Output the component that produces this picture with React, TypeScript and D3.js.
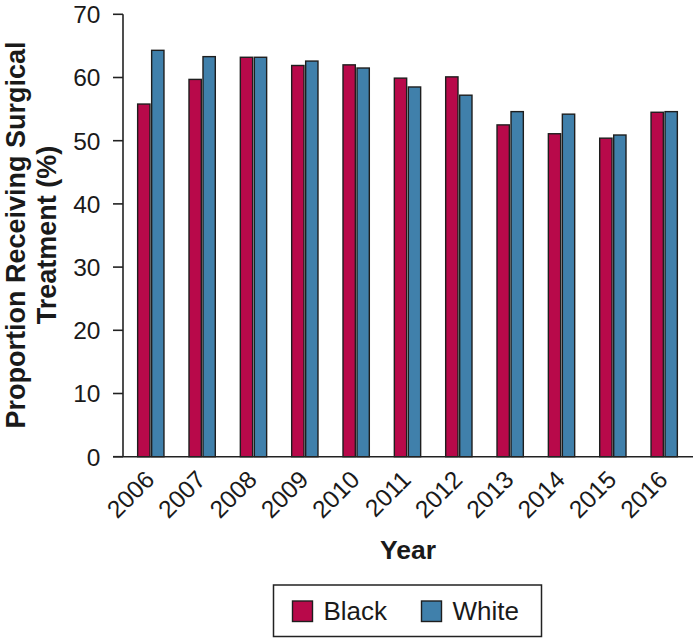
import React from "react";
import * as d3 from "d3";

const years = ["2006", "2007", "2008", "2009", "2010", "2011", "2012", "2013", "2014", "2015", "2016"];
const blackValues = [55.8, 59.7, 63.2, 61.9, 62.0, 59.9, 60.1, 52.5, 51.1, 50.4, 54.5];
const whiteValues = [64.3, 63.3, 63.2, 62.6, 61.5, 58.5, 57.2, 54.6, 54.2, 50.9, 54.6];
const seriesNames = ["Black", "White"];
const seriesColors = ["#B8094A", "#4080AB"];
const yTicks = [0, 10, 20, 30, 40, 50, 60, 70];

const FONT = "'Liberation Sans', Arial, Helvetica, sans-serif";

export default function App() {
  const W = 693;
  const H = 638;
  const x0 = 123;
  const y0 = 456.7;
  const yTop = 14.3;

  const x = d3.scaleBand<string>().domain(years).range([x0, 692]).paddingInner(0.4875).paddingOuter(0.2855);
  const xs = d3.scaleBand<string>().domain(seriesNames).range([0, x.bandwidth()]).paddingInner(0.12);
  const y = d3.scaleLinear().domain([0, 70]).range([y0, yTop]);

  const data = years.map((yr, i) => ({ yr, vals: [blackValues[i], whiteValues[i]] }));

  return (
    <svg width={W} height={H} style={{ position: "absolute", left: 0, top: 0, display: "block" }} fontFamily={FONT}>
      <rect x={0} y={0} width={W} height={H} fill="#fff" />
      {/* bars */}
      {data.map((d) => (
        <g key={d.yr} transform={`translate(${x(d.yr)},0)`}>
          {d.vals.map((v, j) => (
            <rect
              key={j}
              x={xs(seriesNames[j])}
              y={y(v)}
              width={xs.bandwidth()}
              height={y(0) - y(v)}
              fill={seriesColors[j]}
              stroke="#1e1e1e"
              strokeWidth={1.4}
            />
          ))}
        </g>
      ))}
      {/* y axis */}
      <line x1={x0} x2={x0} y1={yTop} y2={y0} stroke="#222" strokeWidth={1.6} />
      {yTicks.map((t) => (
        <g key={t}>
          <line x1={113} x2={x0} y1={y(t)} y2={y(t)} stroke="#222" strokeWidth={1.6} />
          <text x={100.5} y={y(t)} dy="0.36em" textAnchor="end" fontSize={24.5} fill="#1a1a1a">
            {t}
          </text>
        </g>
      ))}
      {/* x axis */}
      <line x1={113} x2={W} y1={y0} y2={y0} stroke="#222" strokeWidth={1.6} />
      {years.map((yr) => {
        const cx = (x(yr) as number) + x.bandwidth() / 2;
        return (
          <text
            key={yr}
            transform={`translate(${cx + 5},${481}) rotate(-45)`}
            textAnchor="end"
            fontSize={24.5}
            fill="#1a1a1a"
          >
            {yr}
          </text>
        );
      })}
      <text x={408} y={559} textAnchor="middle" fontSize={26.5} fontWeight="bold" fill="#1a1a1a">
        Year
      </text>
      <text transform={`translate(24.5,235) rotate(-90)`} textAnchor="middle" fontSize={27} fontWeight="bold" fill="#1a1a1a">
        Proportion Receiving Surgical
      </text>
      <text transform={`translate(55.5,235) rotate(-90)`} textAnchor="middle" fontSize={27} fontWeight="bold" fill="#1a1a1a">
        Treatment (%)
      </text>
      {/* legend */}
      <rect x={273.5} y={585} width={268} height={51.5} fill="#fff" stroke="#222" strokeWidth={1.5} />
      {seriesNames.map((s, i) => {
        const lx = i === 0 ? 292.5 : 421.5;
        return (
          <g key={s}>
            <rect x={lx} y={601} width={20} height={20.5} fill={seriesColors[i]} stroke="#1e1e1e" strokeWidth={1.4} />
            <text x={lx + 31} y={619.5} fontSize={26} fill="#1a1a1a">
              {s}
            </text>
          </g>
        );
      })}
    </svg>
  );
}
